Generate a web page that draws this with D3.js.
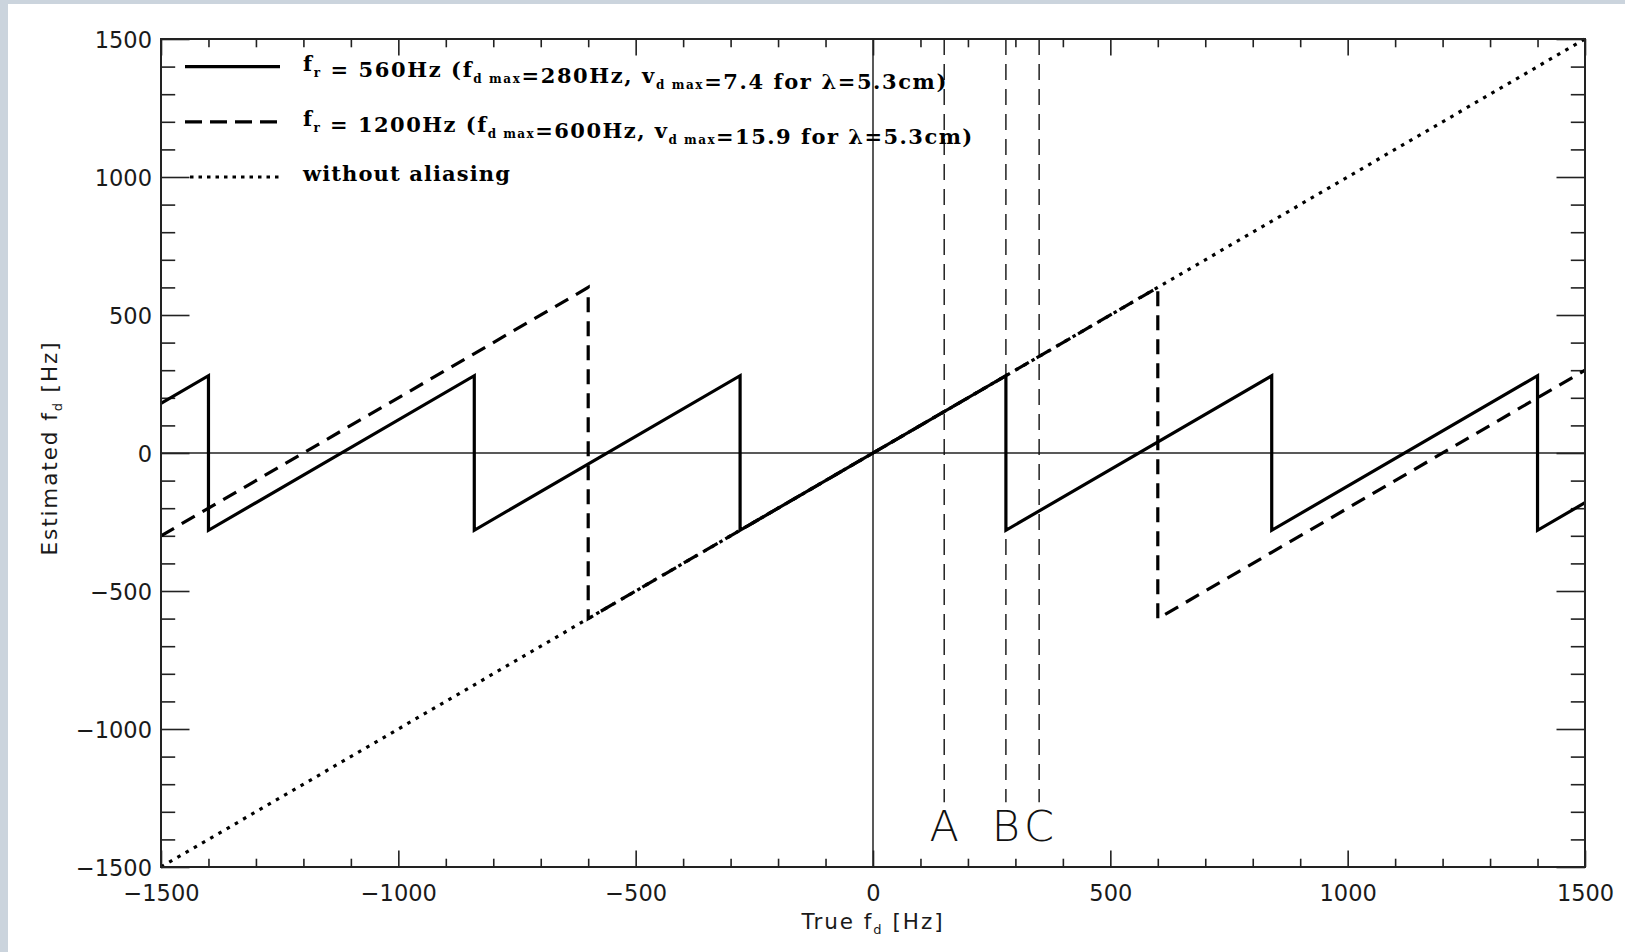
<!DOCTYPE html>
<html>
<head>
<meta charset="utf-8">
<script src="https://cdn.jsdelivr.net/npm/d3@7"></script>
<style>
  html, body { margin: 0; padding: 0; background: #fff; }
  svg { display: block; }
</style>
</head>
<body>
<svg id="chart" width="1625" height="952"></svg>
<script>
// ---------------- data ----------------
const xDomain = [-1500, 1500];
const yDomain = [-1500, 1500];
const xMajorTicks = [-1500, -1000, -500, 0, 500, 1000, 1500];
const yMajorTicks = [-1500, -1000, -500, 0, 500, 1000, 1500];
const xMinorTicks = [-1400, -1300, -1200, -1100, -900, -800, -700, -600, -400, -300, -200, -100,
                     100, 200, 300, 400, 600, 700, 800, 900, 1100, 1200, 1300, 1400];
const yMinorTicks = xMinorTicks.slice();

// f_r = 560 Hz (aliased, sawtooth)
const solidX = [-1500, -1400, -1400, -840, -840, -280, -280, 280, 280, 840, 840, 1400, 1400, 1500];
const solidY = [180, 280, -280, 280, -280, 280, -280, 280, -280, 280, -280, 280, -280, -180];
// f_r = 1200 Hz
const dashedX = [-1500, -600, -600, 600, 600, 1500];
const dashedY = [-300, 600, -600, 600, -600, 300];
// without aliasing
const dottedX = [-1500, 1500];
const dottedY = [-1500, 1500];

// vertical markers
const markerX = [150, 280, 350];
const markerLabels = ["A", "B", "C"];
const markerTop = 1500;
const markerBottom = -1265;
const markerLabelY = -1405;

// legend rows (y in data units)
const legendY = [1400, 1200, 1000];

// ---------------- layout ----------------
const svg = d3.select("#chart");
const W = 1625, H = 952;
const L = 161, R = 1585, T = 39, B = 867;

svg.append("rect").attr("width", W).attr("height", H).attr("fill", "#cbd4dd");
svg.append("rect").attr("x", 8).attr("y", 4).attr("width", W - 8).attr("height", H - 4).attr("fill", "#ffffff");

const x = d3.scaleLinear().domain(xDomain).range([L, R]);
const y = d3.scaleLinear().domain(yDomain).range([B, T]);

const tickFont = "'DejaVu Sans', sans-serif";
const fmt = d => (d < 0 ? "\u2212" + Math.abs(d) : String(d));

function styleAxis(g) {
  g.selectAll(".domain").remove();
  g.selectAll(".tick line").attr("stroke", "#222").attr("stroke-width", 1.6);
  g.selectAll("text").attr("font-family", tickFont).attr("font-size", 22.5)
    .attr("font-weight", "normal").attr("fill", "#1a1a1a");
}

const XMAJ = 16.5, XMIN = 8.3, YMAJ = 28.5, YMIN = 14.2;

// bottom
svg.append("g").attr("transform", `translate(0,${B})`)
  .call(d3.axisBottom(x).tickValues(xMajorTicks).tickSize(-XMAJ).tickPadding(18).tickFormat(fmt))
  .call(styleAxis);
svg.append("g").attr("transform", `translate(0,${B})`)
  .call(d3.axisBottom(x).tickValues(xMinorTicks).tickSize(-XMIN).tickFormat(""))
  .call(styleAxis);
// top
svg.append("g").attr("transform", `translate(0,${T})`)
  .call(d3.axisTop(x).tickValues(xMajorTicks).tickSize(-XMAJ).tickFormat(""))
  .call(styleAxis);
svg.append("g").attr("transform", `translate(0,${T})`)
  .call(d3.axisTop(x).tickValues(xMinorTicks).tickSize(-XMIN).tickFormat(""))
  .call(styleAxis);
// left
svg.append("g").attr("transform", `translate(${L},0)`)
  .call(d3.axisLeft(y).tickValues(yMajorTicks).tickSize(-YMAJ).tickPadding(9).tickFormat(fmt))
  .call(styleAxis)
  .selectAll("text").attr("dy", "0.37em");
svg.append("g").attr("transform", `translate(${L},0)`)
  .call(d3.axisLeft(y).tickValues(yMinorTicks).tickSize(-YMIN).tickFormat(""))
  .call(styleAxis);
// right
svg.append("g").attr("transform", `translate(${R},0)`)
  .call(d3.axisRight(y).tickValues(yMajorTicks).tickSize(-YMAJ).tickFormat(""))
  .call(styleAxis);
svg.append("g").attr("transform", `translate(${R},0)`)
  .call(d3.axisRight(y).tickValues(yMinorTicks).tickSize(-YMIN).tickFormat(""))
  .call(styleAxis);

// zero lines
svg.append("line").attr("x1", x(xDomain[0])).attr("x2", x(xDomain[1]))
  .attr("y1", y(0)).attr("y2", y(0)).attr("stroke", "#222").attr("stroke-width", 1.5);
svg.append("line").attr("x1", x(0)).attr("x2", x(0))
  .attr("y1", y(yDomain[0])).attr("y2", y(yDomain[1])).attr("stroke", "#222").attr("stroke-width", 1.5);

// markers
markerX.forEach((mx, i) => {
  svg.append("line").attr("x1", x(mx)).attr("x2", x(mx))
    .attr("y1", y(markerTop)).attr("y2", y(markerBottom))
    .attr("stroke", "#111").attr("stroke-width", 1.4).attr("stroke-dasharray", "16,9");
  svg.append("text").attr("x", x(mx)).attr("y", y(markerLabelY))
    .attr("text-anchor", "middle").attr("font-family", tickFont).attr("font-weight", 200)
    .attr("font-size", 43).attr("fill", "#111").text(markerLabels[i]);
});

// series
const line = d3.line().x(d => x(d[0])).y(d => y(d[1]));
const zip = (a, b) => a.map((v, i) => [v, b[i]]);

svg.append("path").datum(zip(dottedX, dottedY)).attr("d", line)
  .attr("fill", "none").attr("stroke", "#000").attr("stroke-width", 3.2).attr("stroke-dasharray", "3.5,6");
svg.append("path").datum(zip(dashedX, dashedY)).attr("d", line)
  .attr("fill", "none").attr("stroke", "#000").attr("stroke-width", 3.2).attr("stroke-dasharray", "15,9");
svg.append("path").datum(zip(solidX, solidY)).attr("d", line)
  .attr("fill", "none").attr("stroke", "#000").attr("stroke-width", 3.2);

// frame
svg.append("rect").attr("x", L).attr("y", T).attr("width", R - L).attr("height", B - T)
  .attr("fill", "none").attr("stroke", "#222").attr("stroke-width", 2);

// legend
const legendStyles = [
  { dash: null },
  { dash: "17,8" },
  { dash: "3.5,5" }
];
const legendFont = "'DejaVu Serif', serif";
const legendTexts = [
  [["f", 0], ["r", 1], [" = 560Hz (f", 0], ["d max", 1], ["=280Hz, v", 0], ["d max", 1], ["=7.4 for \u03bb=5.3cm)", 0]],
  [["f", 0], ["r", 1], [" = 1200Hz (f", 0], ["d max", 1], ["=600Hz, v", 0], ["d max", 1], ["=15.9 for \u03bb=5.3cm)", 0]],
  [["without aliasing", 0]]
];
const legendWidths = [645, 671, 208];

function fitSpacing(t, target) {
  const natural = t.node().getComputedTextLength();
  const n = t.text().length;
  t.attr("letter-spacing", ((target - natural) / n).toFixed(2));
}

legendY.forEach((ly, i) => {
  const yy = y(ly);
  const sample = svg.append("line").attr("x1", i === 2 ? 190 : 185).attr("x2", 280)
    .attr("y1", yy).attr("y2", yy).attr("stroke", "#000").attr("stroke-width", 3.2);
  if (legendStyles[i].dash) sample.attr("stroke-dasharray", legendStyles[i].dash);
  const t = svg.append("text").attr("x", 303).attr("y", yy + 4)
    .attr("font-family", legendFont).attr("font-weight", "bold").attr("font-size", 21).attr("fill", "#000");
  legendTexts[i].forEach(([s, sub]) => {
    if (sub) {
      t.append("tspan").attr("font-size", 12).attr("dy", 6).text(s);
      t.append("tspan").attr("dy", -6).text("");
    } else {
      t.append("tspan").text(s);
    }
  });
  fitSpacing(t, legendWidths[i]);
});

// axis titles
const xt = svg.append("text").attr("x", x(0)).attr("y", 929).attr("text-anchor", "middle")
  .attr("font-family", tickFont).attr("font-size", 21.5).attr("fill", "#1a1a1a");
xt.append("tspan").text("True f");
xt.append("tspan").attr("font-size", 13).attr("dy", 5).text("d");
xt.append("tspan").attr("dy", -5).text(" [Hz]");
fitSpacing(xt, 143);

const yt = svg.append("text").attr("transform", `translate(57,448) rotate(-90)`)
  .attr("text-anchor", "middle")
  .attr("font-family", tickFont).attr("font-size", 21.5).attr("fill", "#1a1a1a");
yt.append("tspan").text("Estimated f");
yt.append("tspan").attr("font-size", 13).attr("dy", 5).text("d");
yt.append("tspan").attr("dy", -5).text(" [Hz]");
fitSpacing(yt, 215);
</script>
</body>
</html>
